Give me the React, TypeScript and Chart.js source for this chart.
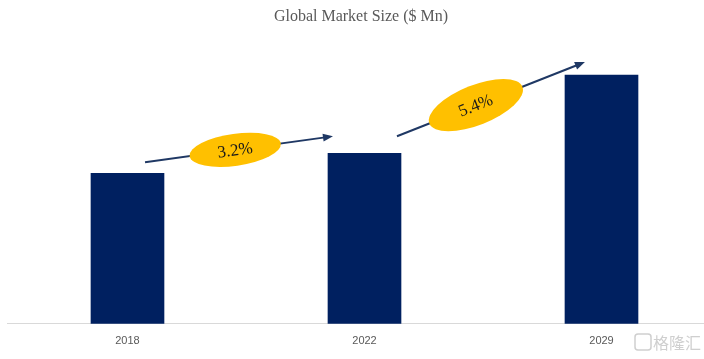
import React, { useEffect, useRef } from "react";
import { Chart, registerables } from "chart.js";

Chart.register(...registerables);

const years = ["2018", "2022", "2029"];
const marketSize = [150, 170, 248];
const cagrLabels = ["3.2%", "5.4%"];
// growth arrows (data units: x = category index, y = value)
const arrowStartX = [0.074, 1.137];
const arrowStartY = [161, 187];
const arrowEndX = [0.867, 1.93];
const arrowEndY = [187, 261];
const labelAlong = [0.48, 0.42];
const ellipseRx = [46, 50];
const ellipseRy = [16, 20];

const NAVY = "#002060";
const ARROW = "#1F3864";
const GOLD = "#FFC000";

const decorPlugin = {
  id: "decor",
  afterDatasetsDraw(chart: any) {
    const ctx = chart.ctx;
    const xs = chart.scales.x;
    const ys = chart.scales.y;
    ctx.save();
    // title
    ctx.fillStyle = "#595959";
    ctx.font = "16px 'Liberation Serif', serif";
    ctx.textAlign = "center";
    ctx.textBaseline = "middle";
    ctx.fillText("Global Market Size ($ Mn)", 361, 17);

    for (let i = 0; i < cagrLabels.length; i++) {
      const x0 = xs.getPixelForValue(arrowStartX[i]);
      const y0 = ys.getPixelForValue(arrowStartY[i]);
      const x1 = xs.getPixelForValue(arrowEndX[i]);
      const y1 = ys.getPixelForValue(arrowEndY[i]);
      const ang = Math.atan2(y1 - y0, x1 - x0);
      const hl = 10;
      ctx.strokeStyle = ARROW;
      ctx.lineWidth = 2;
      ctx.beginPath();
      ctx.moveTo(x0, y0);
      ctx.lineTo(x1 - hl * 0.8 * Math.cos(ang), y1 - hl * 0.8 * Math.sin(ang));
      ctx.stroke();
      ctx.fillStyle = ARROW;
      ctx.beginPath();
      ctx.moveTo(x1, y1);
      ctx.lineTo(
        x1 - hl * Math.cos(ang) + 4 * Math.sin(ang),
        y1 - hl * Math.sin(ang) - 4 * Math.cos(ang)
      );
      ctx.lineTo(
        x1 - hl * Math.cos(ang) - 4 * Math.sin(ang),
        y1 - hl * Math.sin(ang) + 4 * Math.cos(ang)
      );
      ctx.closePath();
      ctx.fill();
      const t = labelAlong[i];
      const cx = x0 + (x1 - x0) * t;
      const cy = y0 + (y1 - y0) * t;
      ctx.fillStyle = GOLD;
      ctx.beginPath();
      ctx.ellipse(cx, cy, ellipseRx[i], ellipseRy[i], ang, 0, Math.PI * 2);
      ctx.fill();
      ctx.save();
      ctx.translate(cx, cy + 1);
      ctx.rotate(ang);
      ctx.fillStyle = "#1a1a1a";
      ctx.font = "17px 'Liberation Serif', serif";
      ctx.textAlign = "center";
      ctx.textBaseline = "middle";
      ctx.fillText(cagrLabels[i], 0, 0);
      ctx.restore();
    }

    // watermark
    ctx.strokeStyle = "#cfcfcf";
    ctx.lineWidth = 1.5;
    ctx.beginPath();
    ctx.roundRect(635, 334, 16, 16, 3);
    ctx.stroke();
    ctx.fillStyle = "#cfcfcf";
    ctx.font = "16px 'Noto Sans CJK SC', sans-serif";
    ctx.textAlign = "left";
    ctx.textBaseline = "middle";
    ctx.fillText("格隆汇", 653, 343);
    ctx.restore();
  },
};

export default function App() {
  const ref = useRef<HTMLCanvasElement>(null);
  useEffect(() => {
    document.body.style.margin = "0";
    const chart = new Chart(ref.current!, {
      type: "bar",
      data: {
        datasets: [
          {
            data: years.map((_, i) => ({ x: i, y: marketSize[i] })),
            backgroundColor: NAVY,
            barThickness: 73,
          },
        ],
      },
      options: {
        animation: false,
        responsive: false,
        layout: { padding: { left: 7, right: 0, top: 40, bottom: 0 } },
        plugins: { legend: { display: false }, tooltip: { enabled: false }, title: { display: false } },
        scales: {
          x: {
            type: "linear",
            min: -0.5084,
            max: 2.4325,
            offset: false,
            grid: { display: false, drawTicks: false },
            border: { display: true, color: "#d9d9d9", width: 1 },
            afterBuildTicks: (axis: any) => {
              axis.ticks = years.map((_, i) => ({ value: i }));
            },
            ticks: {
              autoSkip: false,
              maxRotation: 0,
              padding: 11,
              color: "#595959",
              font: { family: "'Liberation Sans', sans-serif", size: 11 },
              callback: (v: any) => years[Math.round(Number(v))] ?? "",
            },
          },
          y: { display: false, min: 0, max: 283 },
        },
      },
      plugins: [decorPlugin],
    });
    return () => chart.destroy();
  }, []);
  return (
    <div style={{ width: 704, height: 359 }}>
      <canvas ref={ref} width={704} height={359} />
    </div>
  );
}
